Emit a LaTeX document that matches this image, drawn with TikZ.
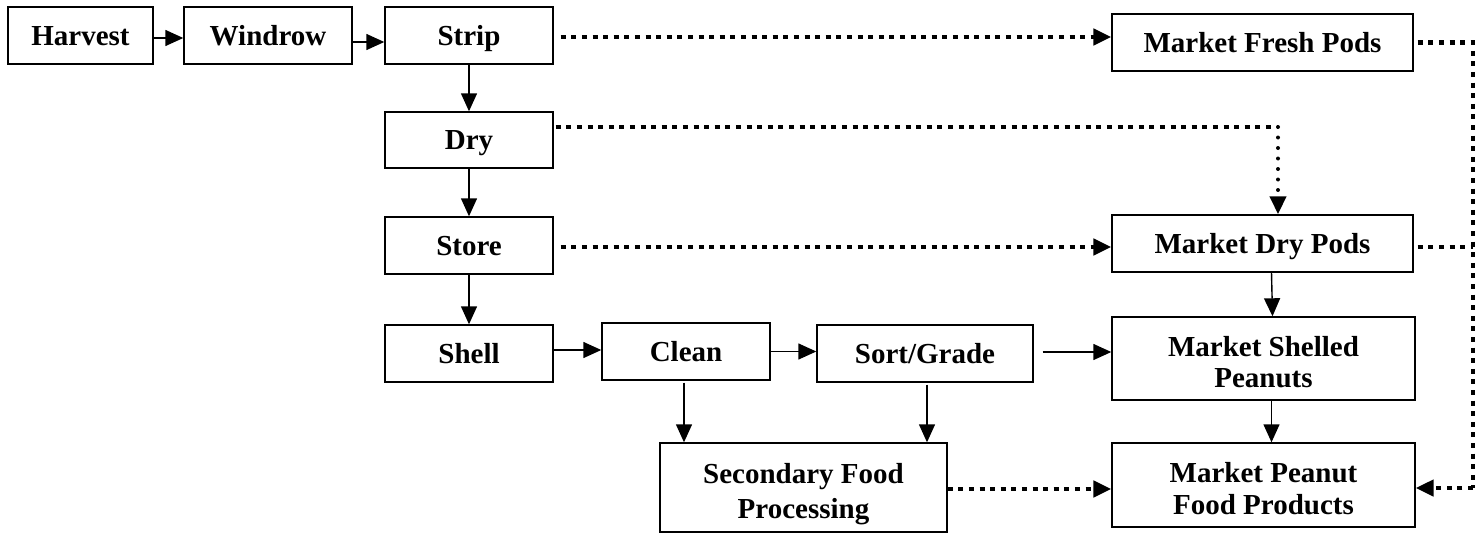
\documentclass[tikz,border=0pt]{standalone}
\usepackage{fontspec}
\setmainfont{Liberation Serif}
\usetikzlibrary{arrows.meta}
\tikzset{
  box/.style={draw, line width=1.4pt, inner sep=0pt, fill=white,
    font=\bfseries\fontsize{29}{33}\selectfont, text height=19.5pt, text depth=0pt},
  boxtwo/.style={draw, line width=1.4pt, inner sep=0pt, fill=white, align=center,
    font=\bfseries\fontsize{29}{#1}\selectfont, text height=27.5pt+#1pt, text depth=0pt},
  tip/.style={-{Triangle[length=18pt,width=16pt]}},
  arr/.style={line width=1.4pt, tip},
  sqdot/.style={line width=4.5pt, dash pattern=on 5pt off 5.6pt},
  sqarr/.style={sqdot, tip},
  rddot/.style={line width=4pt, line cap=round, dash pattern=on 0pt off 10.5pt, tip}
}
\begin{document}
\begin{tikzpicture}[x=1pt,y=-1pt]
\useasboundingbox (0,0) rectangle (1483,535);
% row 1
\node[box, minimum width=145pt, minimum height=57pt] (harvest) at (80.5,35.5) {Harvest};
\node[box, minimum width=168pt, minimum height=57pt] (windrow) at (268,35.5) {Windrow};
\node[box, minimum width=168pt, minimum height=57pt] (strip) at (469,35.5) {Strip};
\node[box, minimum width=301pt, minimum height=57pt] (mfp) at (1262.5,42.5) {Market Fresh Pods};
% left column
\node[box, minimum width=168pt, minimum height=56pt] (dry) at (469,140) {Dry};
\node[box, minimum width=168pt, minimum height=57pt] (store) at (469,245.5) {Store};
\node[box, minimum width=168pt, minimum height=57pt] (shell) at (469,353.5) {Shell};
\node[box, minimum width=168pt, minimum height=57pt] (clean) at (686,351.5) {Clean};
\node[box, minimum width=216pt, minimum height=57pt] (sort) at (925,353.5) {Sort/Grade};
\node[boxtwo=35, minimum width=287pt, minimum height=89pt] (sfp) at (803.5,487.5) {Secondary Food\\Processing};
% right column
\node[box, minimum width=301pt, minimum height=57pt] (mdp) at (1262.5,243.5) {Market Dry Pods};
\node[boxtwo=31, minimum width=303pt, minimum height=83pt] (msp) at (1263.5,358.5) {Market Shelled\\Peanuts};
\node[boxtwo=32, minimum width=303pt, minimum height=84pt] (mpfp) at (1263.5,485) {Market Peanut\\Food Products};
\coordinate (rc) at (1473,0);
\coordinate (dc) at (1278,127);
% solid arrows
\draw[arr] ([yshift=-2.5pt]harvest.east) -- ([yshift=-2.5pt]harvest.east -| windrow.west);
\draw[arr] ([yshift=-6.5pt]windrow.east) -- ([yshift=-6.5pt]windrow.east -| strip.west);
\draw[arr] (strip.south) -- (dry.north);
\draw[arr] (dry.south) -- (store.north);
\draw[arr] (store.south) -- (shell.north);
\draw[arr] ([yshift=3.5pt]shell.east) -- ([yshift=3.5pt]shell.east -| clean.west);
\draw[arr] (clean.east) -- (clean.east -| sort.west);
\draw[arr] ([xshift=9pt,yshift=1.5pt]sort.east) -- ([yshift=1.5pt]sort.east -| msp.west);
\draw[arr] ([yshift=-2pt]clean.south -| 684,0) -- (684,0 |- sfp.north);
\draw[arr] ([yshift=-2pt]sort.south -| 927,0) -- (927,0 |- sfp.north);
\draw[arr] ([xshift=9pt]mdp.south) -- ([xshift=9pt]msp.north);
\draw[arr] ([xshift=8pt]msp.south) -- ([xshift=8pt]mpfp.north);
% dotted connectors
\draw[sqarr] ([xshift=7pt,yshift=-1.5pt]strip.east) -- ([yshift=5.5pt]mfp.west);
\draw[sqdot] ([xshift=2pt]dry.east |- dc) -- (dc);
\draw[rddot] (dc) -- (dc |- mdp.north);
\draw[sqarr] ([xshift=7pt,yshift=-1.5pt]store.east) -- ([yshift=-3.5pt]mdp.west);
\draw[sqdot] ([xshift=4pt]mfp.east) -- (mfp.east -| rc) -- ([yshift=-3pt]mpfp.east -| rc);
\draw[sqarr] ([yshift=-3pt]mpfp.east -| rc) -- ([yshift=-3pt]mpfp.east);
\draw[sqdot] ([xshift=4pt,yshift=-3.5pt]mdp.east) -- ([yshift=-3.5pt]mdp.east -| rc);
\draw[sqarr] ([yshift=-1.5pt]sfp.east) -- ([yshift=-4pt]mpfp.west);
\end{tikzpicture}
\end{document}
